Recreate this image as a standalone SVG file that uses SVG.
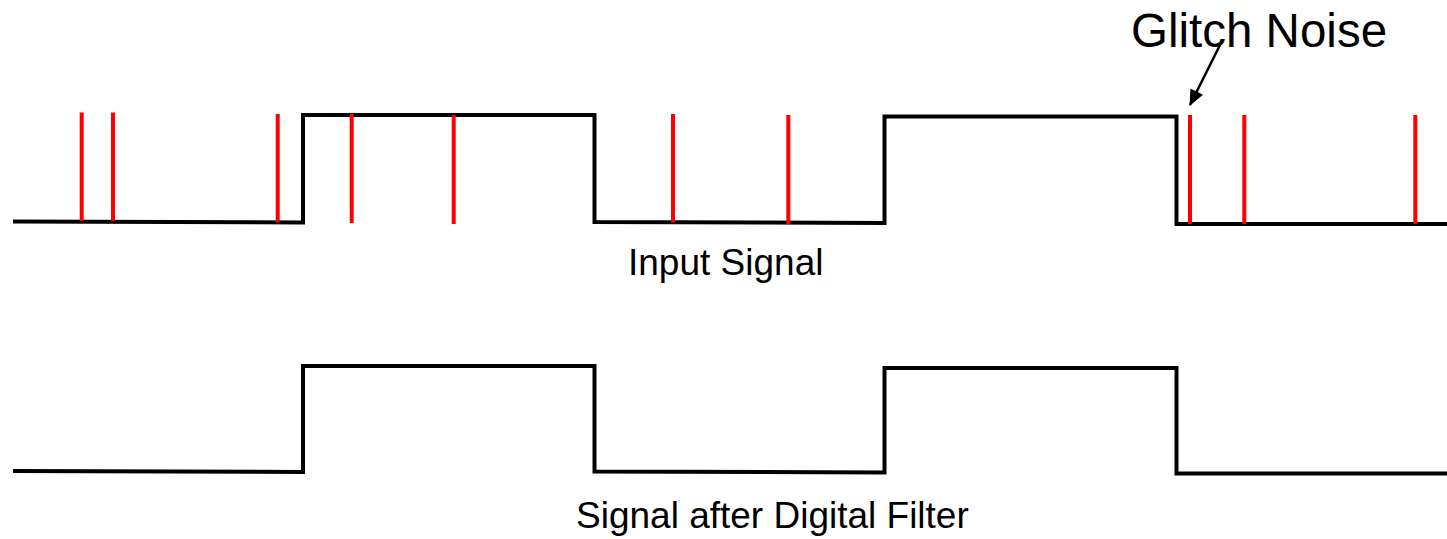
<svg xmlns="http://www.w3.org/2000/svg" width="1447" height="539" viewBox="0 0 1447 539">
<style>
.sig{fill:none;stroke:#000;stroke-width:4;stroke-linejoin:miter}
.glitch{stroke:#ff0000;stroke-width:4}
.lbl{font-family:"Liberation Sans",Arial,sans-serif;fill:#000}
</style>
<defs>
<marker id="ah" markerWidth="16" markerHeight="14" refX="15" refY="7" orient="auto" markerUnits="userSpaceOnUse">
<path d="M0,0 L16,7 L0,14 Z" fill="#000"/>
</marker>
</defs>
<rect width="1447" height="539" fill="#fff"/>
<g id="input-signal">
<path class="sig" d="M13,221.5 L303,222.5 L303,115 L594.5,115 L594.5,222 L884.5,223 L884.5,116.5 L1176.5,116.5 L1176.5,224 L1447,224"/>
</g>
<g id="glitches">
<line class="glitch" x1="81.7" y1="112.5" x2="81.7" y2="221"/>
<line class="glitch" x1="113" y1="112.5" x2="113" y2="221"/>
<line class="glitch" x1="277.7" y1="114" x2="277.7" y2="222.5"/>
<line class="glitch" x1="351.7" y1="114" x2="351.7" y2="223"/>
<line class="glitch" x1="453.7" y1="115" x2="453.7" y2="224"/>
<line class="glitch" x1="673" y1="114" x2="673" y2="222.5"/>
<line class="glitch" x1="788.3" y1="115" x2="788.3" y2="224"/>
<line class="glitch" x1="1190" y1="115" x2="1190" y2="224"/>
<line class="glitch" x1="1244.3" y1="115" x2="1244.3" y2="224"/>
<line class="glitch" x1="1415.3" y1="115" x2="1415.3" y2="224"/>
</g>
<g id="filtered-signal">
<path class="sig" d="M13,471 L303,472 L303,366 L594.5,366 L594.5,471.5 L884.5,472.5 L884.5,368 L1176.5,368 L1176.5,473.5 L1447,473.5"/>
</g>
<g id="labels">
<text class="lbl" x="628" y="275" font-size="37">Input Signal</text>
<text class="lbl" x="576" y="528" font-size="37">Signal after Digital Filter</text>
<text class="lbl" x="1131" y="47" font-size="47.5">Glitch Noise</text>
</g>
<g id="connectors">
<line x1="1220" y1="45" x2="1190" y2="105" stroke="#000" stroke-width="2.5" marker-end="url(#ah)"/>
</g>
</svg>
